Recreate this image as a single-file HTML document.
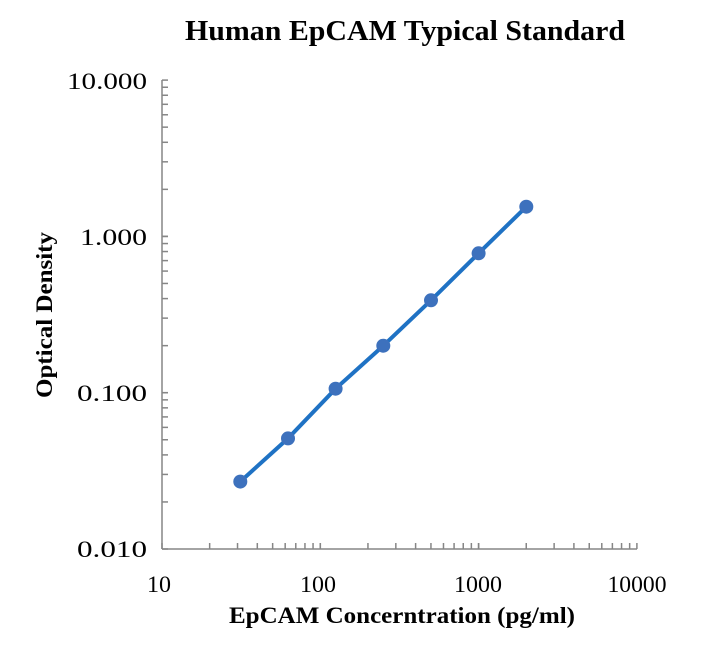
<!DOCTYPE html>
<html><head><meta charset="utf-8"><style>
body{margin:0;background:#fff}
svg text{font-family:"Liberation Serif",serif;fill:#000}
</style></head><body>
<svg id="s" width="709" height="645" xmlns="http://www.w3.org/2000/svg">
<rect width="709" height="645" fill="#fff"/>
<text x="405" y="40" font-size="28" font-weight="bold" text-anchor="middle" textLength="440" lengthAdjust="spacingAndGlyphs">Human EpCAM Typical Standard</text>
<g font-size="23" text-anchor="end">
<text x="147" y="89" textLength="80" lengthAdjust="spacingAndGlyphs">10.000</text>
<text x="147" y="245" textLength="67" lengthAdjust="spacingAndGlyphs">1.000</text>
<text x="147" y="401" textLength="70" lengthAdjust="spacingAndGlyphs">0.100</text>
<text x="147" y="557" textLength="70" lengthAdjust="spacingAndGlyphs">0.010</text>
</g>
<g font-size="23" text-anchor="middle">
<text x="159" y="592" textLength="24" lengthAdjust="spacingAndGlyphs">10</text>
<text x="318" y="592" textLength="36" lengthAdjust="spacingAndGlyphs">100</text>
<text x="478" y="592" textLength="48" lengthAdjust="spacingAndGlyphs">1000</text>
<text x="637" y="592" textLength="59" lengthAdjust="spacingAndGlyphs">10000</text>
</g>
<text x="402" y="623" font-size="23" font-weight="bold" text-anchor="middle" textLength="346" lengthAdjust="spacingAndGlyphs">EpCAM Concerntration (pg/ml)</text>
<text transform="translate(52,315) rotate(-90)" font-size="23" font-weight="bold" text-anchor="middle" textLength="166" lengthAdjust="spacingAndGlyphs">Optical Density</text>
<g id="ax" stroke="#868686" stroke-width="1.5" fill="none">
<line x1="162" y1="80" x2="162" y2="549"/>
<line x1="162" y1="549" x2="637" y2="549"/>
</g>
<polyline points="240.3,481.6 288,438.4 335.6,388.7 383.3,345.7 431,300.3 478.6,253.3 526.3,206.7" stroke="#1f72c4" stroke-width="4" fill="none" stroke-linecap="round"/>
<g fill="#3d71bd">
<circle cx="240.3" cy="481.6" r="7"/><circle cx="288" cy="438.4" r="7"/><circle cx="335.6" cy="388.7" r="7"/><circle cx="383.3" cy="345.7" r="7"/><circle cx="431" cy="300.3" r="7"/><circle cx="478.6" cy="253.3" r="7"/><circle cx="526.3" cy="206.7" r="7"/>
</g>
</svg>
<script>
var ax=document.getElementById('ax'),ns="http://www.w3.org/2000/svg";
function L(a,b,c,d){var l=document.createElementNS(ns,'line');l.setAttribute('x1',a);l.setAttribute('y1',b);l.setAttribute('x2',c);l.setAttribute('y2',d);ax.appendChild(l);}
for(var d=0;d<3;d++)for(var k=1;k<=10;k++){var x=162+(d+Math.log10(k))*158.3;L(x,549,x,543);}
for(var d=0;d<3;d++)for(var k=1;k<=10;k++){var y=549-(d+Math.log10(k))*156.3;L(162,y,168,y);}
</script>
</body></html>
